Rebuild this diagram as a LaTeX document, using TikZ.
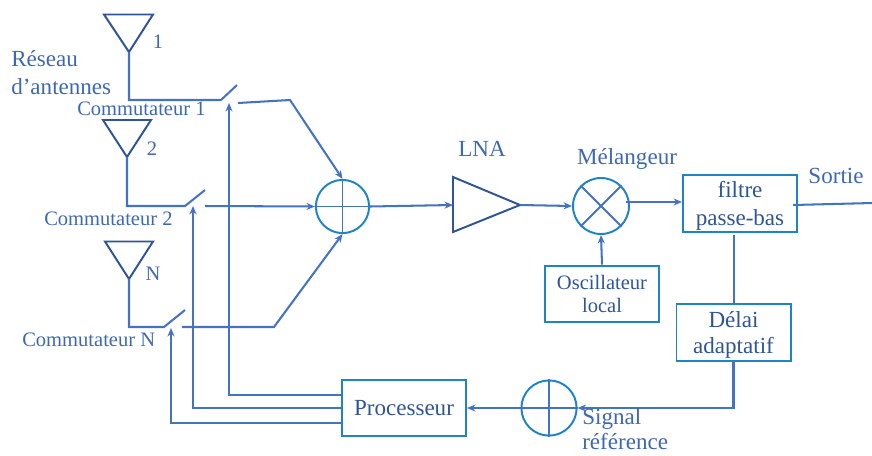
\documentclass[tikz,border=0pt]{standalone}
\usepackage{fontspec}
\setmainfont{Liberation Serif}
\usetikzlibrary{arrows.meta,positioning,calc}
\definecolor{wire}{HTML}{4472C4}
\definecolor{frame}{HTML}{1F84C6}
\definecolor{antenna}{HTML}{2F5597}
\definecolor{lettering}{HTML}{2F5597}
\definecolor{soft}{HTML}{3F68B4}

\begin{document}
\begin{tikzpicture}[
  x=0.025cm,y=-0.025cm,
  box/.style={draw=frame,line width=1.4pt,inner sep=0pt,minimum width=2.85cm,minimum height=1.42cm,align=center,text=lettering},
  ring/.style={draw=frame,circle,line width=1.4pt,inner sep=0pt,minimum size=1.33cm},
  line/.style={draw=wire,line width=1.45pt},
  hair/.style={draw=wire,line width=1.1pt},
  feed/.style={line,-{Stealth[length=6pt,width=5pt]}},
  aerial/.style={draw=antenna,line width=1.4pt,line join=miter},
  big/.style={font=\fontsize{16.4}{19.9}\selectfont,text=soft,inner sep=0pt},
  small/.style={font=\fontsize{14.6}{17}\selectfont,text=soft,inner sep=0pt},
]
  \useasboundingbox (0,0) rectangle (872,455);

  % blocks
  \node[ring] (sum) at (342.5,206.5) {};
  \node[ring,minimum size=1.4cm] (mixer) at (601,206) {};
  \node[ring,minimum size=1.38cm] (ref) at (549,408) {};
  \node[box,text depth=0pt,font=\fontsize{16.4}{19.4}\selectfont] (filter) at (740,203.5) {filtre\\passe-bas};
  \node[box,font=\fontsize{14.6}{17}\selectfont] (osc) at (602,294) {Oscillateur\\local};
  \node[box,text depth=0pt,font=\fontsize{16.4}{18.5}\selectfont] (delay) at (733.5,332.5) {Délai\\adaptatif};
  \node[box,minimum width=3.1cm,font=\fontsize{16.4}{19.9}\selectfont] (proc) at (404,408) {Processeur};

  \draw[hair] (sum.north) -- (sum.south);
  \draw[hair] (sum.west) -- (sum.east);
  \draw[line] (mixer.north west) -- (mixer.south east);
  \draw[line] (mixer.north east) -- (mixer.south west);
  \draw[hair] (ref.north) -- (ref.south);
  \draw[hair] (ref.west) -- (ref.east);

  % antennas
  \coordinate (ant1) at (129,52);
  \coordinate (ant2) at (127,157);
  \coordinate (antN) at (129,279);
  \draw[aerial] (104,14.5) -- (153,14.5) -- (ant1) -- cycle;
  \draw[aerial] (103,120) -- (151,120) -- (ant2) -- cycle;
  \draw[aerial] (105,241.5) -- (153,241.5) -- (antN) -- cycle;

  % switches
  \coordinate (sw1) at (221,100);
  \coordinate (sw2) at (185,206);
  \coordinate (swN) at (164,327);
  \coordinate (blade1) at (237,85);
  \coordinate (blade2) at (205,190);
  \coordinate (bladeN) at (185,310);
  \draw[line] (ant1) |- (sw1) -- (blade1);
  \draw[line] (ant2) |- (sw2) -- (blade2);
  \draw[line] (antN) |- (swN) -- (bladeN);

  \coordinate (out1) at (238,103);
  \coordinate (bend1) at (290,100);
  \coordinate (out2) at (205,206);
  \coordinate (outN) at (182,327);
  \coordinate (bendN) at (274,327);
  \draw[feed] (out1) -- (bend1) -- (sum.north);
  \draw[feed] (out2) -- (sum.west);
  \draw[feed] (outN) -- (bendN) -- (sum.south);

  % amplifier
  \coordinate (lnain) at (453,205);
  \coordinate (lnaout) at (520,205);
  \draw[aerial] (453,177) -- (lnaout) -- (453,232) -- cycle;
  \draw[feed] (sum.east) -- (lnain);
  \draw[feed] (lnaout) -- (mixer.west);

  % signal path
  \coordinate (mixout) at (626,202);
  \coordinate (sortie) at (793,205);
  \coordinate (end) at (873,203);
  \draw[feed] (mixout) -- (mixout-|filter.west);
  \draw[line] (sortie) -- (end);
  \draw[feed] (osc.north) -- (mixer.south);
  \draw[line] (734,235) -- (delay.north-|734,0);
  \draw[feed] (delay.south) |- (ref.east);
  \draw[feed] (ref.west) -- (proc.east);

  % control lines
  \coordinate (tap1) at (229,395);
  \coordinate (tap2) at (193,408);
  \coordinate (tapN) at (171,423);
  \draw[feed] (proc.west|-tap1) -- (tap1) -- (229,103);
  \draw[feed] (proc.west|-tap2) -- (tap2) -- (193,206);
  \draw[feed] (proc.west|-tapN) -- (tapN) -- (171,328);

  % labels
  \node[big,anchor=west] (array1) at (11,59) {Réseau};
  \node[big,anchor=west] (array2) at (11,87) {d’antennes};
  \node[small,anchor=west] (lab1) at (77,109) {Commutateur 1};
  \node[small,anchor=west] (lab2) at (44,219) {Commutateur 2};
  \node[small,anchor=west] (labN) at (22,340) {Commutateur N};
  \node[small] (num1) at (158,42) {1};
  \node[small] (num2) at (152,149) {2};
  \node[small] (numN) at (153,274) {N};
  \node[big] (lna) at (482,149) {LNA};
  \node[big] (mel) at (627,159) {Mélangeur};
  \node[big] (out) at (836,176) {Sortie};
  \node[big,anchor=west] (sig1) at (582,419) {Signal};
  \node[big,anchor=west] (sig2) at (582,441) {référence};
\end{tikzpicture}
\end{document}
